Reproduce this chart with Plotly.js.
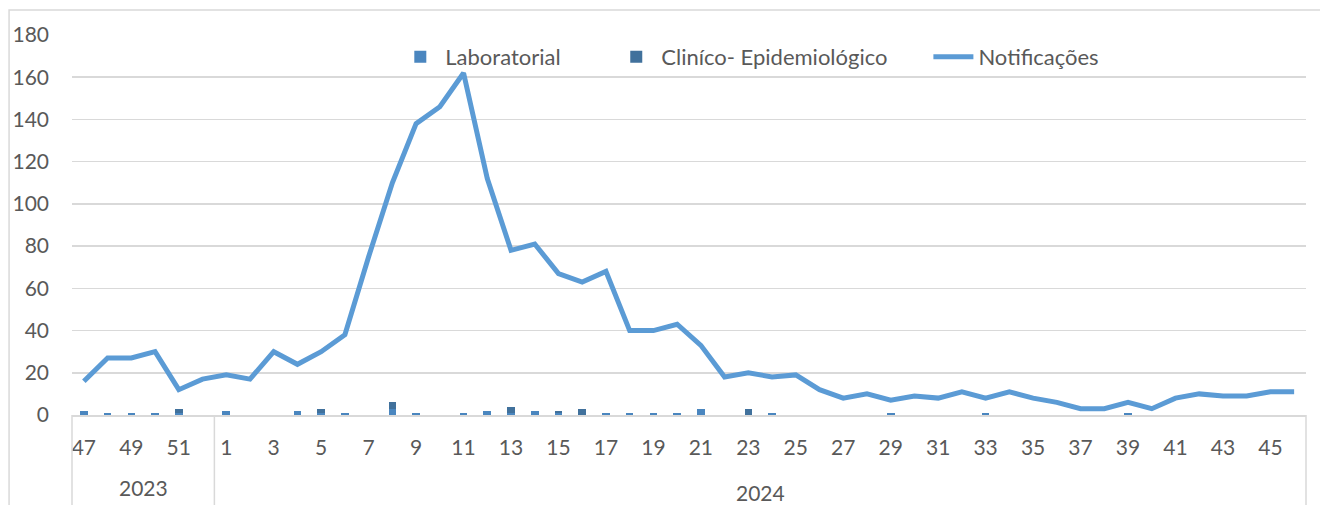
<!DOCTYPE html>
<html>
<head>
<meta charset="utf-8">
<script src="https://cdn.plot.ly/plotly-3.0.1.min.js"></script>
<style>
  html, body { margin: 0; padding: 0; background: #fff; }
  #chart { width: 1320px; height: 505px; }
</style>
</head>
<body>
<div id="chart"></div>
<script>
// semanas epidemiologicas: 47-52 de 2023, 1-46 de 2024
var weeks2023 = ['47', '48', '49', '50', '51', '52']
var weeks2024 = []
for (var w = 1; w <= 46; w++) weeks2024.push(String(w))
var weeks = weeks2023.concat(weeks2024)

var laboratorial = [2, 1, 1, 1, 1, 0, 2, 0, 0, 2, 1, 1, 0, 3, 1, 0, 1, 2, 1, 2, 1, 0, 1, 1, 1, 1, 3, 0, 0, 1,
  0, 0, 0, 0, 1, 0, 0, 0, 1, 0, 0, 0, 0, 0, 1, 0, 0, 0, 0, 0, 0, 0]
var clinico = [0, 0, 0, 0, 2, 0, 0, 0, 0, 0, 2, 0, 0, 3, 0, 0, 0, 0, 3, 0, 1, 3, 0, 0, 0, 0, 0, 0, 3, 0,
  0, 0, 0, 0, 0, 0, 0, 0, 0, 0, 0, 0, 0, 0, 0, 0, 0, 0, 0, 0, 0, 0]
var notificacoes = [16, 27, 27, 30, 12, 17, 19, 17, 30, 24, 30, 38, 75, 110, 138, 146, 162, 112, 78, 81,
  67, 63, 68, 40, 40, 43, 33, 18, 20, 18, 19, 12, 8, 10, 7, 9, 8, 11, 8, 11, 8, 6, 3, 3, 6, 3, 8, 10, 9, 9, 11, 11]

var tickWeeks = weeks.filter(function (d, i) { return i % 2 === 0 })

var txt = '#595959'
var grid = '#d9d9d9'
var font = 'Lato, "Open Sans", sans-serif'

var data = [
  {
    type: 'bar',
    name: 'Laboratorial',
    legend: 'legend',
    x: weeks,
    y: laboratorial,
    marker: { color: '#4a86bf' }
  },
  {
    type: 'bar',
    name: 'Clin\u00edco- Epidemiol\u00f3gico',
    legend: 'legend2',
    x: weeks,
    y: clinico,
    marker: { color: '#41719c' }
  },
  {
    type: 'scatter',
    mode: 'lines',
    name: 'Notifica\u00e7\u00f5es',
    legend: 'legend3',
    x: weeks,
    y: notificacoes,
    line: { color: '#5b9bd5', width: 5 }
  }
]

function leg (x) {
  return {
    orientation: 'h',
    x: x,
    y: 0.942,
    xanchor: 'left',
    yanchor: 'middle',
    itemwidth: 40,
    font: { family: font, size: 22, color: txt },
    bgcolor: 'rgba(0,0,0,0)'
  }
}

var layout = {
  width: 1320,
  height: 505,
  margin: { l: 72, r: 14, t: 35, b: 90 },
  paper_bgcolor: '#fff',
  plot_bgcolor: '#fff',
  font: { family: font, size: 21, color: txt },
  barmode: 'stack',
  bargap: 0.68,
  showlegend: true,
  legend: leg(0.262),
  legend2: leg(0.437),
  legend3: leg(0.694),
  xaxis: {
    type: 'category',
    categoryorder: 'array',
    categoryarray: weeks,
    tickvals: tickWeeks,
    ticktext: tickWeeks,
    ticks: '',
    showgrid: false,
    showline: true,
    linecolor: grid,
    linewidth: 1.5,
    zeroline: false,
    tickangle: 0,
    ticklabelstandoff: 13,
    tickfont: { family: font, size: 21, color: txt },
    fixedrange: true
  },
  yaxis: {
    range: [0, 180],
    dtick: 20,
    showgrid: true,
    gridcolor: grid,
    gridwidth: 1.5,
    zeroline: false,
    showline: false,
    ticks: '',
    ticklabelstandoff: 22,
    tickfont: { family: font, size: 21, color: txt },
    fixedrange: true
  },
  shapes: [
    // moldura do grafico
    { type: 'rect', xref: 'paper', yref: 'paper', x0: -0.051, x1: 1.02, y0: -0.3, y1: 1.066,
      line: { color: grid, width: 1.5 }, layer: 'below' },
    // divisorias da tabela de categorias
    { type: 'line', xref: 'paper', yref: 'paper', x0: 0, x1: 0, y0: 0, y1: -0.26,
      line: { color: grid, width: 1.5 } },
    { type: 'line', xref: 'x', yref: 'paper', x0: 5.5, x1: 5.5, y0: 0, y1: -0.26,
      line: { color: grid, width: 1.5 } },
    { type: 'line', xref: 'paper', yref: 'paper', x0: 1, x1: 1, y0: 0, y1: -0.26,
      line: { color: grid, width: 1.5 } }
  ],
  annotations: [
    { text: '2023', xref: 'x', yref: 'paper', x: 2.5, y: -0.19, yanchor: 'middle',
      showarrow: false, font: { family: font, size: 21, color: txt } },
    { text: '2024', xref: 'x', yref: 'paper', x: 28.5, y: -0.203, yanchor: 'middle',
      showarrow: false, font: { family: font, size: 21, color: txt } }
  ]
}

Plotly.newPlot('chart', data, layout, { displayModeBar: false, staticPlot: true })
</script>
</body>
</html>
